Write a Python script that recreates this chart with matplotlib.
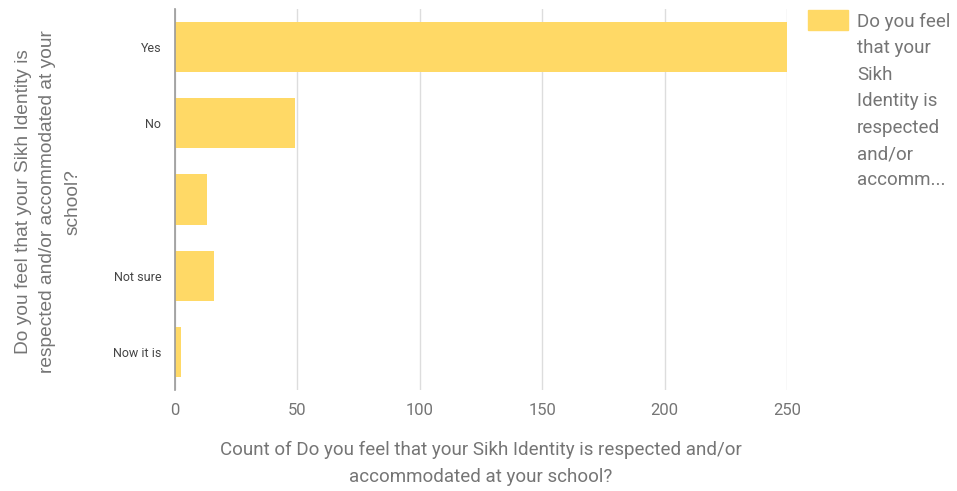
import matplotlib.pyplot as plt

# survey answers and counts
categories = ["Yes", "No", "", "Not sure", "Now it is"]
counts = [250, 49, 13, 16, 2.5]
xticks = [0, 50, 100, 150, 200, 250]

bar_color = "#FFD966"
text_color = "#757575"

plt.rcParams['font.family'] = ['Roboto', 'DejaVu Sans']

fig = plt.figure(figsize=(9.57, 4.91), dpi=100)
ax = fig.add_axes([0.1829, 0.2057, 0.6395, 0.776])

ypos = list(range(len(categories)))
ax.barh(ypos, counts, height=0.66, color=bar_color, zorder=3)
ax.set_ylim(len(categories) - 0.5, -0.5)
ax.set_xlim(0, 250)

ax.set_yticks(ypos)
ax.set_yticklabels(categories, fontsize=9, color="#444444")
ax.set_xticks(xticks)
ax.set_xticklabels([str(t) for t in xticks], fontsize=12, color=text_color)
ax.tick_params(axis='both', length=0)
ax.tick_params(axis='x', pad=9)
ax.tick_params(axis='y', pad=10)

ax.grid(axis='x', color="#dddddd", linewidth=1, zorder=0)
for s in ["top", "right", "bottom"]:
    ax.spines[s].set_visible(False)
ax.spines["left"].set_color("#999999")
ax.spines["left"].set_linewidth(1.2)
ax.spines["left"].set_zorder(4)

ax.set_xlabel("Count of Do you feel that your Sikh Identity is respected and/or\naccommodated at your school?",
              fontsize=13.5, color=text_color, labelpad=17, linespacing=1.62)
fig.text(0.05, 0.589, "Do you feel that your Sikh Identity is\nrespected and/or accommodated at your\nschool?",
         rotation=90, ha='center', va='center', fontsize=13.8, color=text_color,
         family='Liberation Sans', linespacing=1.6)

# legend, drawn by hand so the label wraps
fig.patches.append(plt.Rectangle((808 / 957, 1 - 30 / 491), 40 / 957, 20 / 491,
                                 transform=fig.transFigure, color=bar_color))
legend_lines = ["Do you feel", "that your", "Sikh", "Identity is", "respected", "and/or", "accomm..."]
fig.text(857 / 957, 1 - 13 / 491, "\n".join(legend_lines), ha='left', va='top',
         fontsize=13.5, color=text_color, linespacing=1.6)

fig.savefig("out.png", dpi=100)
